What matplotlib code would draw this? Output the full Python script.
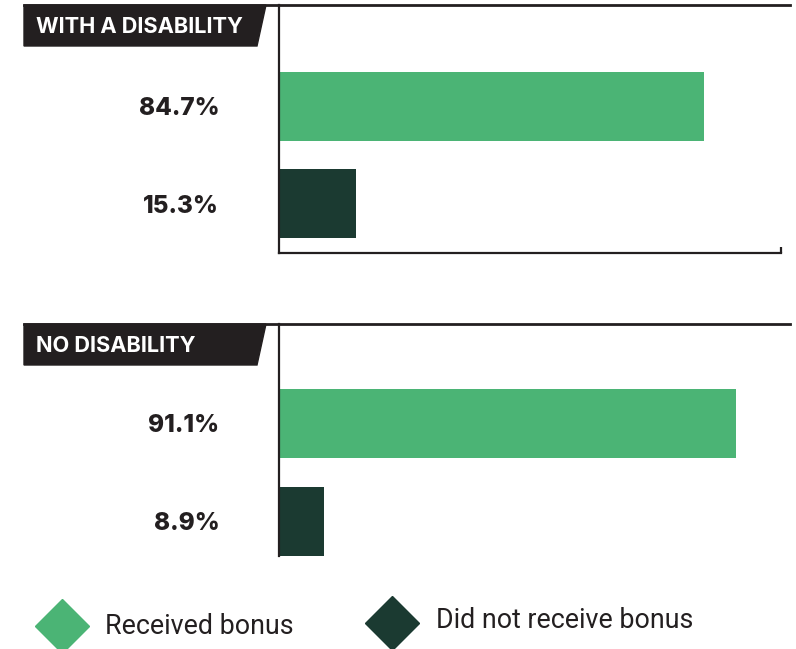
import matplotlib.pyplot as plt
from matplotlib.patches import Polygon
from matplotlib.lines import Line2D

# data
groups = ['WITH A DISABILITY', 'NO DISABILITY']
received = [84.7, 91.1]
not_received = [15.3, 8.9]
legend_labels = ['Received bonus', 'Did not receive bonus']

GREEN = '#4BB475'
DARK = '#1B3A31'
INK = '#231F20'

W, H = 796, 649
fig = plt.figure(figsize=(W / 100, H / 100), dpi=100)


def fx(px):
    return px / W


def fy(py):
    return 1 - py / H


# panel geometry in pixels: (top, bottom, ylim_top, ylim_bottom, bar height)
panels = [
    (5, 253, -1.046, 1.51, 0.71),
    (324, 556, -1.015, 1.352, 0.70),
]

for i, (top, bottom, yt, yb, bh) in enumerate(panels):
    ax = fig.add_axes([fx(279), fy(bottom), fx(781) - fx(279), fy(top) - fy(bottom)])
    vals = [received[i], not_received[i]]
    ax.barh([0, 1], vals, height=bh, color=[GREEN, DARK])
    ax.set_xlim(0, 100)
    ax.set_ylim(yb, yt)
    ax.set_yticks([0, 1])
    ax.set_yticklabels([f'{v}%' for v in vals], fontfamily='Inter',
                       fontweight='heavy', fontsize=17.5, color=INK)
    ax.tick_params(axis='y', length=0, pad=43)
    for s in ['top', 'right']:
        ax.spines[s].set_visible(False)
    ax.spines['left'].set_color(INK)
    ax.spines['left'].set_linewidth(1.6)
    if i == 0:
        ax.spines['bottom'].set_color(INK)
        ax.spines['bottom'].set_linewidth(1.6)
        ax.set_xticks([100])
        ax.set_xticklabels([''])
        ax.tick_params(axis='x', direction='in', length=4, width=1.6, color=INK)
    else:
        ax.spines['bottom'].set_visible(False)
        ax.set_xticks([])

    # top rule and label box
    fig.add_artist(Line2D([fx(24), fx(790)], [fy(top), fy(top)], color=INK,
                          linewidth=2, transform=fig.transFigure))
    box_bottom = top + 41
    fig.add_artist(Polygon([(fx(24), fy(top)), (fx(266), fy(top)),
                            (fx(257), fy(box_bottom)), (fx(24), fy(box_bottom))],
                           closed=True, color=INK, transform=fig.transFigure))
    fig.text(fx(36), fy(top + 22), groups[i], color='white', fontfamily='Inter',
             fontweight='bold', fontsize=15.7, va='center', ha='left')

# legend
leg_pos = [(62, 626, 105, 626), (392, 623, 436, 621)]
for (mx, my, tx, ty), lab, col in zip(leg_pos, legend_labels, [GREEN, DARK]):
    fig.add_artist(Line2D([fx(mx)], [fy(my)], marker='D', markersize=27,
                          color=col, linestyle='none', transform=fig.transFigure))
    fig.text(fx(tx), fy(ty), lab, color=INK, fontfamily='Roboto', fontsize=19.3,
             va='center', ha='left')

fig.savefig('out.png', dpi=100)
